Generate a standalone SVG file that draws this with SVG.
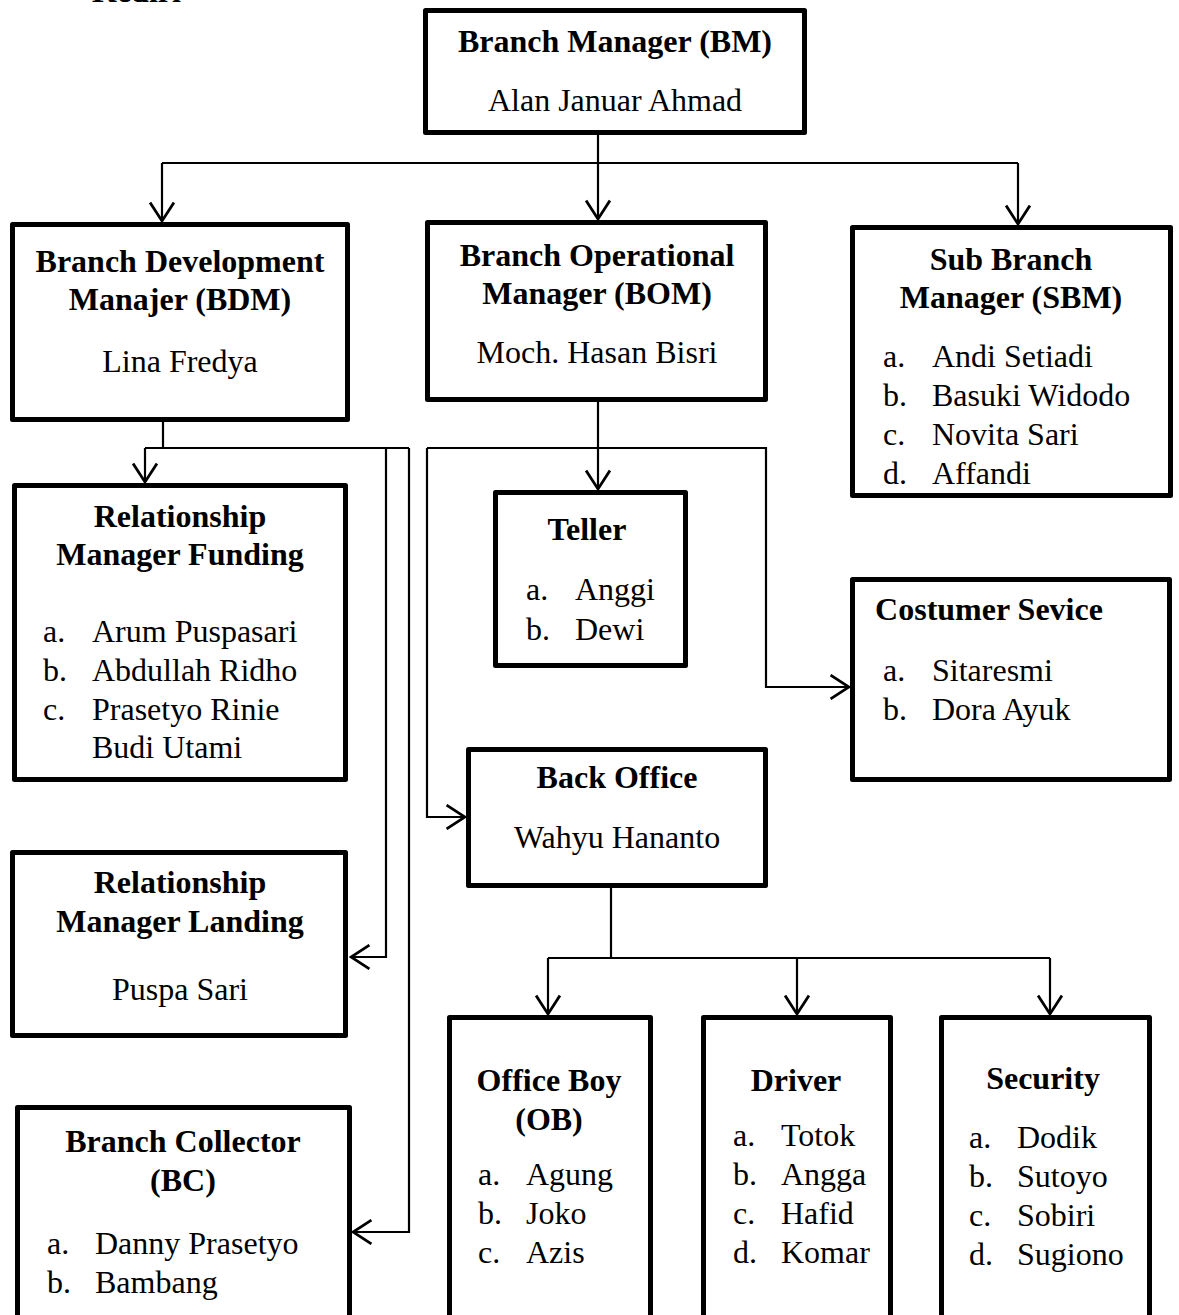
<svg xmlns="http://www.w3.org/2000/svg" width="1179" height="1315" viewBox="0 0 1179 1315">
<style>
.box{fill:#fff;stroke:#000;stroke-width:5;stroke-linejoin:round}
.t{font-family:"Liberation Serif","Times New Roman",serif;font-size:32px;fill:#000}
.b{font-weight:bold;text-anchor:middle}
.c{text-anchor:middle}
.ln{fill:none;stroke:#000;stroke-width:2.2}
</style>
<defs>
<marker id="ar" markerUnits="userSpaceOnUse" markerWidth="24" markerHeight="26" viewBox="-20 -12 22 24" refX="0" refY="0" orient="auto">
<path d="M-17,-11 L0,0 L-17,11" fill="none" stroke="#000" stroke-width="2.5"/>
</marker>
</defs>
<rect width="1179" height="1315" fill="#fff"/>
<text class="t" x="92" y="2" font-weight="bold">Kediri</text>

<g id="connectors">
<path class="ln" d="M598,135 L598,163"/>
<path class="ln" d="M162,163 L1018,163"/>
<path class="ln" d="M162,163 L162,221" marker-end="url(#ar)"/>
<path class="ln" d="M598,163 L598,219" marker-end="url(#ar)"/>
<path class="ln" d="M1018,163 L1018,224" marker-end="url(#ar)"/>
<path class="ln" d="M163,422 L163,448"/>
<path class="ln" d="M145,448 L409,448"/>
<path class="ln" d="M145,448 L145,482" marker-end="url(#ar)"/>
<path class="ln" d="M386,448 L386,957 L351,957" marker-end="url(#ar)"/>
<path class="ln" d="M409,448 L409,1232 L353,1232" marker-end="url(#ar)"/>
<path class="ln" d="M598,402 L598,489" marker-end="url(#ar)"/>
<path class="ln" d="M427,448 L427,817 L465,817" marker-end="url(#ar)"/>
<path class="ln" d="M427,448 L766,448 L766,687 L849,687" marker-end="url(#ar)"/>
<path class="ln" d="M611,888 L611,958"/>
<path class="ln" d="M548,958 L1050,958"/>
<path class="ln" d="M548,958 L548,1014" marker-end="url(#ar)"/>
<path class="ln" d="M797,958 L797,1014" marker-end="url(#ar)"/>
<path class="ln" d="M1050,958 L1050,1014" marker-end="url(#ar)"/>
</g>

<g id="bm">
<rect class="box" x="425.5" y="10.5" width="379" height="122"/>
<text class="t b" x="615" y="52">Branch Manager (BM)</text>
<text class="t c" x="615" y="111">Alan Januar Ahmad</text>
</g>

<g id="bdm">
<rect class="box" x="12.5" y="224.5" width="335" height="195"/>
<text class="t b" x="180" y="272">Branch Development</text>
<text class="t b" x="180" y="310">Manajer (BDM)</text>
<text class="t c" x="180" y="372">Lina Fredya</text>
</g>

<g id="bom">
<rect class="box" x="427.5" y="222.5" width="338" height="177"/>
<text class="t b" x="597" y="266">Branch Operational</text>
<text class="t b" x="597" y="304">Manager (BOM)</text>
<text class="t c" x="597" y="363">Moch. Hasan Bisri</text>
</g>

<g id="sbm">
<rect class="box" x="852.5" y="227.5" width="318" height="268"/>
<text class="t b" x="1011" y="270">Sub Branch</text>
<text class="t b" x="1011" y="308">Manager (SBM)</text>
<text class="t" x="883" y="367">a.</text><text class="t" x="932" y="367">Andi Setiadi</text>
<text class="t" x="883" y="406">b.</text><text class="t" x="932" y="406">Basuki Widodo</text>
<text class="t" x="883" y="445">c.</text><text class="t" x="932" y="445">Novita Sari</text>
<text class="t" x="883" y="484">d.</text><text class="t" x="932" y="484">Affandi</text>
</g>

<g id="rmf">
<rect class="box" x="14.5" y="485.5" width="331" height="294"/>
<text class="t b" x="180" y="527">Relationship</text>
<text class="t b" x="180" y="565">Manager Funding</text>
<text class="t" x="43" y="642">a.</text><text class="t" x="92" y="642">Arum Puspasari</text>
<text class="t" x="43" y="681">b.</text><text class="t" x="92" y="681">Abdullah Ridho</text>
<text class="t" x="43" y="720">c.</text><text class="t" x="92" y="720">Prasetyo Rinie</text>
<text class="t" x="92" y="758">Budi Utami</text>
</g>

<g id="teller">
<rect class="box" x="495.5" y="492.5" width="190" height="173"/>
<text class="t b" x="587" y="540">Teller</text>
<text class="t" x="526" y="600">a.</text><text class="t" x="575" y="600">Anggi</text>
<text class="t" x="526" y="640">b.</text><text class="t" x="575" y="640">Dewi</text>
</g>

<g id="cs">
<rect class="box" x="852.5" y="579.5" width="317" height="200"/>
<text class="t b" x="989" y="620">Costumer Sevice</text>
<text class="t" x="883" y="681">a.</text><text class="t" x="932" y="681">Sitaresmi</text>
<text class="t" x="883" y="720">b.</text><text class="t" x="932" y="720">Dora Ayuk</text>
</g>

<g id="bo">
<rect class="box" x="468.5" y="749.5" width="297" height="136"/>
<text class="t b" x="617" y="788">Back Office</text>
<text class="t c" x="617" y="848">Wahyu Hananto</text>
</g>

<g id="rml">
<rect class="box" x="12.5" y="852.5" width="333" height="183"/>
<text class="t b" x="180" y="893">Relationship</text>
<text class="t b" x="180" y="932">Manager Landing</text>
<text class="t c" x="180" y="1000">Puspa Sari</text>
</g>

<g id="bc">
<rect class="box" x="17.5" y="1107.5" width="332" height="250"/>
<text class="t b" x="183" y="1152">Branch Collector</text>
<text class="t b" x="183" y="1191">(BC)</text>
<text class="t" x="47" y="1254">a.</text><text class="t" x="95" y="1254">Danny Prasetyo</text>
<text class="t" x="47" y="1293">b.</text><text class="t" x="95" y="1293">Bambang</text>
</g>

<g id="ob">
<rect class="box" x="449.5" y="1017.5" width="201" height="320"/>
<text class="t b" x="549" y="1091">Office Boy</text>
<text class="t b" x="549" y="1130">(OB)</text>
<text class="t" x="478" y="1185">a.</text><text class="t" x="526" y="1185">Agung</text>
<text class="t" x="478" y="1224">b.</text><text class="t" x="526" y="1224">Joko</text>
<text class="t" x="478" y="1263">c.</text><text class="t" x="526" y="1263">Azis</text>
</g>

<g id="driver">
<rect class="box" x="703.5" y="1017.5" width="187" height="320"/>
<text class="t b" x="796" y="1091">Driver</text>
<text class="t" x="733" y="1146">a.</text><text class="t" x="781" y="1146">Totok</text>
<text class="t" x="733" y="1185">b.</text><text class="t" x="781" y="1185">Angga</text>
<text class="t" x="733" y="1224">c.</text><text class="t" x="781" y="1224">Hafid</text>
<text class="t" x="733" y="1263">d.</text><text class="t" x="781" y="1263">Komar</text>
</g>

<g id="security">
<rect class="box" x="941.5" y="1017.5" width="208" height="320"/>
<text class="t b" x="1043" y="1089">Security</text>
<text class="t" x="969" y="1148">a.</text><text class="t" x="1017" y="1148">Dodik</text>
<text class="t" x="969" y="1187">b.</text><text class="t" x="1017" y="1187">Sutoyo</text>
<text class="t" x="969" y="1226">c.</text><text class="t" x="1017" y="1226">Sobiri</text>
<text class="t" x="969" y="1265">d.</text><text class="t" x="1017" y="1265">Sugiono</text>
</g>
</svg>
